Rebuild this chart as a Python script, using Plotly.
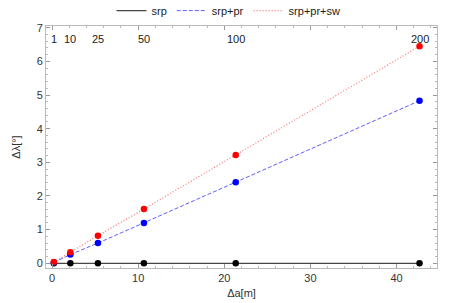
import plotly.graph_objects as go

# data
n_labels = ["1", "10", "25", "50", "100", "200"]
delta_a = [0.21, 2.13, 5.33, 10.67, 21.33, 42.67]
srp = [0.0, 0.0, 0.0, 0.0, 0.0, 0.0]
srp_pr = [0.025, 0.26, 0.60, 1.20, 2.41, 4.83]
srp_pr_sw = [0.035, 0.33, 0.82, 1.61, 3.22, 6.45]
label_y = 6.67

series = [
    ("srp", srp, "black", "rgba(70,70,70,1)", "solid", 1.2),
    ("srp+pr", srp_pr, "blue", "rgba(40,40,255,0.75)", "4px,2px", 1.0),
    ("srp+pr+sw", srp_pr_sw, "red", "rgba(255,60,60,0.7)", "1px,2px", 1.2),
]

fig = go.Figure()
for name, ys, mcol, lcol, dash, w in series:
    fig.add_trace(go.Scatter(x=delta_a, y=ys, mode="lines", name=name,
                             line=dict(color=lcol, dash=dash, width=w)))
for name, ys, mcol, lcol, dash, w in series:
    fig.add_trace(go.Scatter(x=delta_a, y=ys, mode="markers", showlegend=False,
                             marker=dict(color=mcol, size=6.5)))

for xv, t in zip(delta_a, n_labels):
    fig.add_annotation(x=xv, y=label_y, text=t, showarrow=False, xref="x", yref="y",
                       font=dict(size=11, color="#222"))

axis_common = dict(
    showgrid=False, zeroline=False, showline=True, linecolor="#bbbbbb", linewidth=1,
    mirror="allticks", ticks="inside", ticklen=4, tickcolor="#999999", tickwidth=1,
    tickfont=dict(size=11, color="#333"), automargin=False,
)
fig.update_xaxes(range=[-0.7, 44.7], dtick=10, tick0=0,
                 minor=dict(dtick=2, ticks="inside", ticklen=2, tickcolor="#bbbbbb"),
                 title=dict(text="Δa[m]", font=dict(size=11, color="#333"), standoff=6),
                 **axis_common)
fig.update_yaxes(range=[-0.14, 7.05], dtick=1, tick0=0,
                 minor=dict(dtick=0.2, ticks="inside", ticklen=2, tickcolor="#bbbbbb"),
                 title=dict(text="Δλ[°]", font=dict(size=11, color="#333"), standoff=13),
                 **axis_common)

fig.update_layout(
    width=457, height=303,
    margin=dict(l=46, r=20, t=26, b=35, autoexpand=False),
    paper_bgcolor="white", plot_bgcolor="white",
    font=dict(family="Liberation Sans, Arial, sans-serif", size=11, color="#333"),
    legend=dict(orientation="h", xref="container", yref="container",
                x=0.5, xanchor="center", y=0.965, yanchor="middle",
                font=dict(size=11, color="#222"), itemwidth=30,
                tracegroupgap=0, bgcolor="rgba(0,0,0,0)"),
)

fig.write_html("out.html", config={"displayModeBar": False},
               post_script="document.body.style.margin='0';document.body.style.padding='0';")
